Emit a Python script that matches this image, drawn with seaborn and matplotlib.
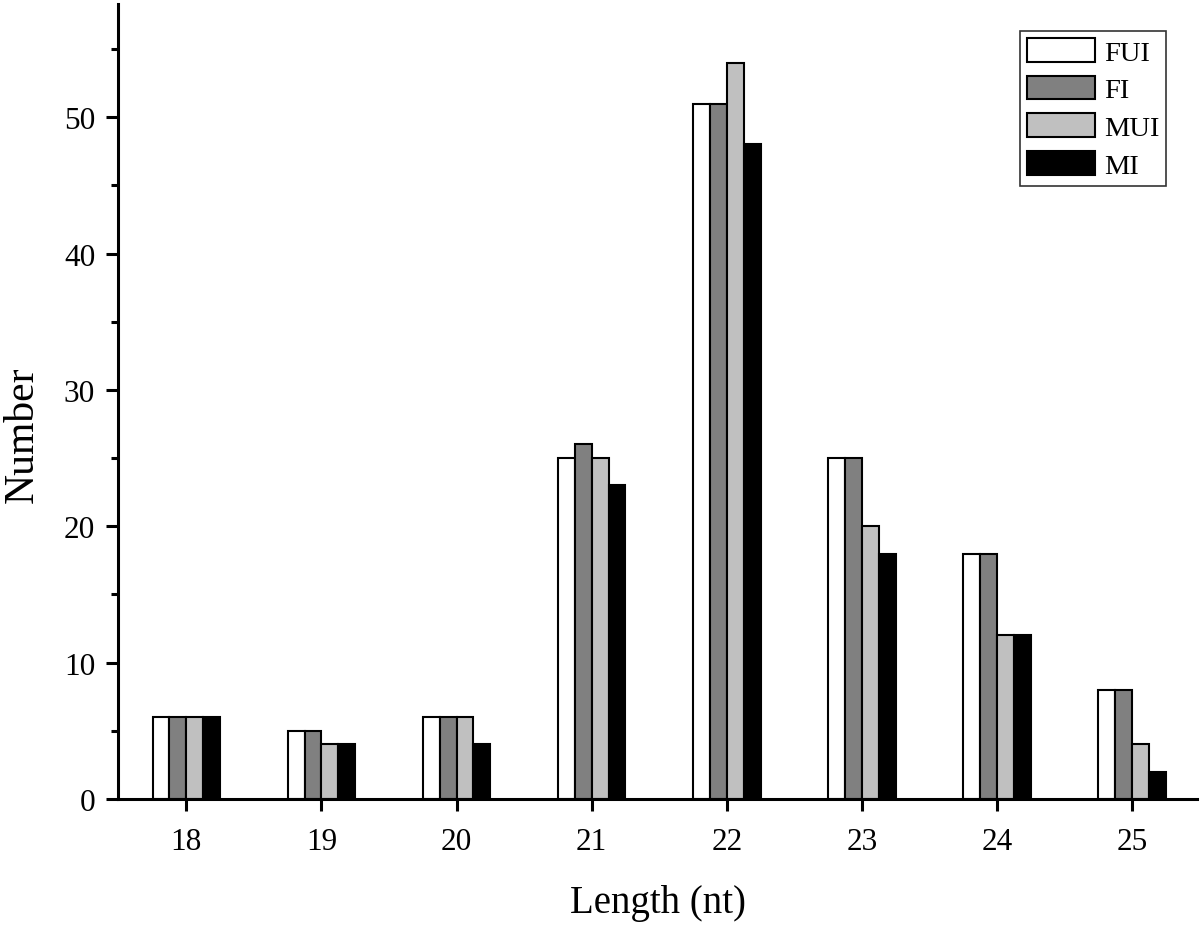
import pandas as pd
import seaborn as sns
import matplotlib.pyplot as plt
from matplotlib.ticker import MultipleLocator

# sRNA length distribution per library
lengths = ["18", "19", "20", "21", "22", "23", "24", "25"]
groups = ["FUI", "FI", "MUI", "MI"]
fui = [6, 5, 6, 25, 51, 25, 18, 8]
fi = [6, 5, 6, 26, 51, 25, 18, 8]
mui = [6, 4, 6, 25, 54, 20, 12, 4]
mi = [6, 4, 4, 23, 48, 18, 12, 2]
colors = ["#ffffff", "#808080", "#c0c0c0", "#000000"]

rows = []
for g, vals in zip(groups, [fui, fi, mui, mi]):
    for l, v in zip(lengths, vals):
        rows.append({"Length": l, "Number": v, "Group": g})
df = pd.DataFrame(rows)

sns.set_style("ticks")
plt.rcParams["font.family"] = ["Liberation Serif", "DejaVu Serif"]
plt.rcParams.update({"text.color": "black", "axes.labelcolor": "black",
                     "xtick.color": "black", "ytick.color": "black",
                     "axes.edgecolor": "black"})

fig = plt.figure(figsize=(12.01, 9.29), dpi=100)
ax = fig.add_axes([0.0983, 0.1389, 0.8984, 0.8557])

sns.barplot(data=df, x="Length", y="Number", hue="Group", order=lengths,
            hue_order=groups, palette=colors, saturation=1, width=0.5,
            edgecolor="black", linewidth=1.5, ax=ax)

ax.set_xlim(-0.505, 7.48)
ax.set_ylim(0, 58.3)
ax.yaxis.set_major_locator(MultipleLocator(10))
ax.yaxis.set_minor_locator(MultipleLocator(5))

for side in ["top", "right"]:
    ax.spines[side].set_visible(False)
for side in ["left", "bottom"]:
    ax.spines[side].set_linewidth(2.2)

ax.tick_params(axis="both", which="major", direction="out", length=8.5,
               width=2.2, labelsize=22.5)
ax.tick_params(axis="x", which="major", pad=12)
ax.tick_params(axis="y", which="major", pad=8)
ax.tick_params(axis="y", which="minor", direction="out", length=5, width=2.2)

ax.set_xlabel("Length (nt)", fontsize=28, labelpad=20)
ax.set_ylabel("Number", fontsize=30, labelpad=16, y=0.46)

leg = ax.legend(loc="upper right", bbox_to_anchor=(0.9715, 0.966), fontsize=20.5,
                frameon=True, fancybox=False, edgecolor="black",
                handlelength=2.4, handleheight=0.9, labelspacing=0.35,
                handletextpad=0.3, borderpad=0.25, borderaxespad=0)
leg.get_frame().set_linewidth(1.2)

fig.savefig("out.png", dpi=100)
